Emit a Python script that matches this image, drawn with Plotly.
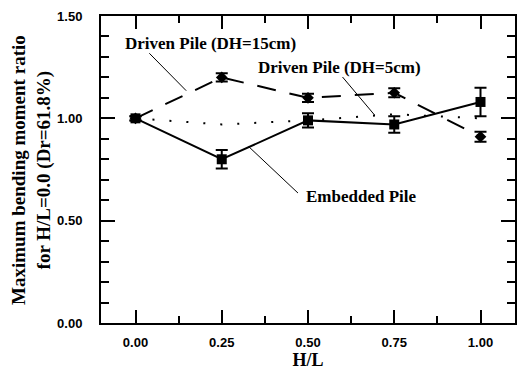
import plotly.graph_objects as go

# H/L positions of the tests
h_over_l = [0.0, 0.25, 0.50, 0.75, 1.00]

# Maximum bending moment ratio, normalised by the H/L=0.0 case
embedded = [1.00, 0.80, 0.99, 0.97, 1.08]
embedded_err = [0.01, 0.045, 0.035, 0.04, 0.07]

driven_15 = [1.00, 1.20, 1.10, 1.125, 0.91]
driven_15_err = [0.01, 0.02, 0.02, 0.022, 0.025]

driven_5 = [1.00, 0.97, 0.99, 1.02, 1.00]

x_ticks = [0.0, 0.25, 0.50, 0.75, 1.00]
x_ticktext = ["0.00", "0.25", "0.50", "0.75", "1.00"]
y_ticks = [0.0, 0.5, 1.0, 1.5]
y_ticktext = ["0.00", "0.50", "1.00", "1.50"]

SERIF = "Liberation Serif, Times New Roman, serif"
SANS = "Liberation Sans, Arial, sans-serif"


def serif_font(size):
    return dict(family=SERIF, size=size, color="black", weight="bold")


fig = go.Figure()

fig.add_trace(go.Scatter(
    x=h_over_l, y=driven_5, mode="lines",
    line=dict(color="black", width=2, dash="2px,15px"),
    name="Driven Pile (DH=5cm)", showlegend=False,
))

fig.add_trace(go.Scatter(
    x=h_over_l, y=driven_15, mode="lines+markers",
    line=dict(color="black", width=2, dash="19px,14px"),
    marker=dict(symbol="diamond", size=9, color="black"),
    error_y=dict(type="data", array=driven_15_err, color="black",
                 thickness=2, width=6),
    name="Driven Pile (DH=15cm)", showlegend=False,
))

fig.add_trace(go.Scatter(
    x=h_over_l, y=embedded, mode="lines+markers",
    line=dict(color="black", width=2),
    marker=dict(symbol="square", size=10, color="black"),
    error_y=dict(type="data", array=embedded_err, color="black",
                 thickness=2, width=6),
    name="Embedded Pile", showlegend=False,
))

# series labels with thin leader lines
labels = [
    ("Driven Pile (DH=15cm)", 0.218, 1.368, (0.04, 1.318), (0.147, 1.135)),
    ("Driven Pile (DH=5cm)", 0.59, 1.246, (0.60, 1.202), (0.693, 1.016)),
    ("Embedded Pile", 0.655, 0.62, (0.471, 0.635), (0.328, 0.862)),
]
for text, tx, ty, p0, p1 in labels:
    fig.add_annotation(x=tx, y=ty, xref="x", yref="y", text=text,
                       showarrow=False, font=serif_font(17),
                       xanchor="center", yanchor="middle")
    fig.add_shape(type="line", xref="x", yref="y",
                  x0=p0[0], y0=p0[1], x1=p1[0], y1=p1[1],
                  line=dict(color="black", width=1))

# two-line y-axis title
fig.add_annotation(
    x=-0.168, y=0.5, xref="paper", yref="paper",
    text="Maximum bending moment ratio<br>for H/L=0.0 (Dr=61.8%)",
    textangle=-90, showarrow=False, font=serif_font(19),
    xanchor="center", yanchor="middle",
)

tick_font = dict(family=SANS, size=13, color="black", weight="bold")

fig.update_xaxes(
    range=[-0.1, 1.1], tickvals=x_ticks, ticktext=x_ticktext,
    ticks="inside", ticklen=13, tickwidth=1.5, tickcolor="black",
    minor=dict(dtick=0.125, tick0=0, ticks="inside", ticklen=7,
               tickwidth=1.5, tickcolor="black"),
    showline=True, linewidth=2, linecolor="black", mirror="ticks",
    showgrid=False, zeroline=False, tickfont=tick_font,
    ticklabelstandoff=6,
    title=dict(text="H/L", font=serif_font(18), standoff=2),
)
fig.update_yaxes(
    range=[0, 1.5], tickvals=y_ticks, ticktext=y_ticktext,
    ticks="inside", ticklen=14, tickwidth=1.5, tickcolor="black",
    minor=dict(dtick=0.1, tick0=0, ticks="inside", ticklen=8,
               tickwidth=1.5, tickcolor="black"),
    showline=True, linewidth=2, linecolor="black", mirror="ticks",
    showgrid=False, zeroline=False, tickfont=tick_font,
    ticklabelstandoff=14,
)

fig.update_layout(
    width=519, height=371,
    margin=dict(l=101, r=2, t=16, b=48),
    paper_bgcolor="white", plot_bgcolor="white",
)

fig.write_html("out.html")
